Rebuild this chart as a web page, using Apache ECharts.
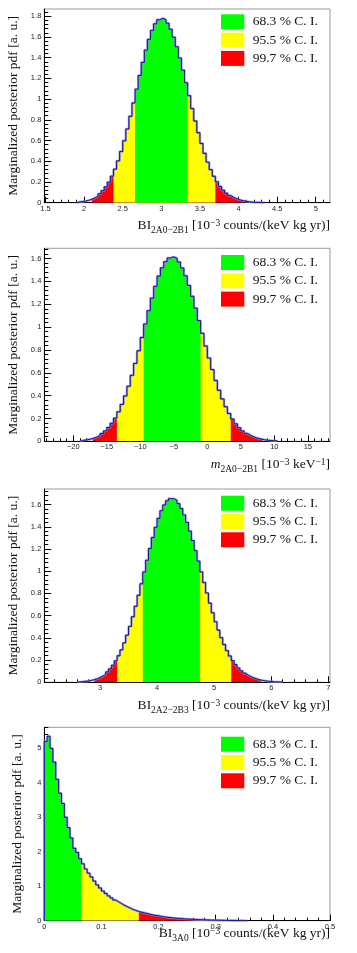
<!DOCTYPE html>
<html>
<head>
<meta charset="utf-8">
<script src="https://cdn.jsdelivr.net/npm/echarts@6/dist/echarts.min.js"></script>
<style>
  html, body { margin: 0; padding: 0; background: #fff; }
  #main { width: 357px; height: 953px; }
</style>
</head>
<body>
<div id="main"></div>
<script>
// panel 1: BI 2A0-2B1, histogram bins start / width / heights
var bi2a0Start = 1.9;
var bi2a0Width = 0.04;
var bi2a0Values = [
  0.007, 0.011, 0.016, 0.023, 0.032, 0.046, 0.063, 0.086, 0.116, 0.153,
  0.199, 0.256, 0.324, 0.404, 0.495, 0.598, 0.712, 0.834, 0.963, 1.096,
  1.228, 1.355, 1.473, 1.577, 1.663, 1.727, 1.766, 1.780, 1.768, 1.733,
  1.675, 1.598, 1.505, 1.397, 1.280, 1.158, 1.033, 0.909, 0.789, 0.676,
  0.572, 0.477, 0.392, 0.319, 0.255, 0.202, 0.157, 0.121, 0.092, 0.069,
  0.051, 0.037, 0.027, 0.019, 0.013, 0.009, 0.006, 0.004, 0.003, 0.002,
  0.001
];
var bi2a0Ci = [[2.66, 3.34], [2.38, 3.70], [2.10, 4.10]];
var bi2a0XTicks = [1.5, 2, 2.5, 3, 3.5, 4, 4.5, 5];
var bi2a0YTicks = [0, 0.2, 0.4, 0.6, 0.8, 1, 1.2, 1.4, 1.6, 1.8];

// panel 2: m 2A0-2B1
var m2a0Start = -19;
var m2a0Width = 0.5;
var m2a0Values = [
  0.008, 0.012, 0.018, 0.026, 0.036, 0.050, 0.068, 0.091, 0.121, 0.158,
  0.203, 0.258, 0.323, 0.397, 0.482, 0.578, 0.682, 0.793, 0.909, 1.027,
  1.143, 1.254, 1.357, 1.447, 1.519, 1.573, 1.605, 1.615, 1.602, 1.570,
  1.518, 1.449, 1.365, 1.270, 1.166, 1.057, 0.946, 0.835, 0.729, 0.628,
  0.533, 0.447, 0.371, 0.303, 0.244, 0.195, 0.153, 0.119, 0.091, 0.069,
  0.052, 0.038, 0.028, 0.020, 0.014, 0.010, 0.007, 0.005, 0.003
];
var m2a0Ci = [[-9.5, -1.0], [-13.5, 3.5], [-17.0, 8.0]];
var m2a0XTicks = [-20, -15, -10, -5, 0, 5, 10, 15];
var m2a0YTicks = [0, 0.2, 0.4, 0.6, 0.8, 1, 1.2, 1.4, 1.6];

// panel 3: BI 2A2-2B3
var bi2a2Start = 2.6;
var bi2a2Width = 0.05;
var bi2a2Values = [
  0.004, 0.006, 0.009, 0.012, 0.017, 0.023, 0.031, 0.042, 0.055, 0.073,
  0.094, 0.121, 0.153, 0.193, 0.239, 0.292, 0.355, 0.425, 0.503, 0.590,
  0.684, 0.783, 0.887, 0.993, 1.099, 1.204, 1.303, 1.395, 1.476, 1.544,
  1.597, 1.634, 1.653, 1.653, 1.638, 1.608, 1.564, 1.507, 1.439, 1.361,
  1.276, 1.185, 1.091, 0.994, 0.898, 0.804, 0.713, 0.626, 0.545, 0.470,
  0.402, 0.340, 0.285, 0.237, 0.195, 0.159, 0.129, 0.103, 0.082, 0.064,
  0.050, 0.039, 0.030, 0.022, 0.017, 0.013, 0.009, 0.007, 0.005, 0.004,
  0.003, 0.002
];
var bi2a2Ci = [[3.75, 4.75], [3.30, 5.30], [2.90, 5.85]];
var bi2a2XTicks = [3, 4, 5, 6, 7];
var bi2a2YTicks = [0, 0.2, 0.4, 0.6, 0.8, 1, 1.2, 1.4, 1.6];

// panel 4: BI 3A0
var bi3a0Start = 0;
var bi3a0Width = 0.005;
var bi3a0Values = [
  5.20, 5.35, 5.00, 4.60, 4.10, 3.70, 3.40, 3.00, 2.70, 2.40,
  2.10, 1.98, 1.80, 1.65, 1.50, 1.38, 1.27, 1.15, 1.04, 0.95,
  0.86, 0.79, 0.72, 0.66, 0.60, 0.55, 0.50, 0.45, 0.41, 0.37,
  0.33, 0.30, 0.27, 0.25, 0.23, 0.21, 0.19, 0.17, 0.155, 0.14,
  0.125, 0.113, 0.102, 0.092, 0.083, 0.075, 0.068, 0.061, 0.055, 0.050,
  0.045, 0.040, 0.036, 0.032, 0.029, 0.026, 0.023, 0.020, 0.018, 0.016,
  0.014, 0.012, 0.010, 0.009, 0.008, 0.007, 0.006, 0.005, 0.004, 0.003,
  0.002
];
var bi3a0Ci = [[0, 0.065], [0.065, 0.165], [0.165, 0.33]];
var bi3a0XTicks = [0, 0.1, 0.2, 0.3, 0.4, 0.5];
var bi3a0YTicks = [0, 1, 2, 3, 4, 5];

var ciLabels = ["68.3 % C. I.", "95.5 % C. I.", "99.7 % C. I."];
var ciColors = ["#00ff00", "#ffff00", "#ff0000"];
var yTitle = "Marginalized posterior pdf [a. u.]";

var panels = [
  { values: bi2a0Values, start: bi2a0Start, width: bi2a0Width, ci: bi2a0Ci,
    xTicks: bi2a0XTicks, yTicks: bi2a0YTicks, xMinor: 0.1, yMinor: 0.04,
    xMin: 1.484, xMax: 5.185, yMax: 1.87, top: 9, height: 193.7, legendTop: 14.3,
    title: "{n|BI}{sub|2A0\u22122B1}{n| [10}{sup|\u22123}{n| counts/(keV kg yr)]}", titleTop: 218 },
  { values: m2a0Values, start: m2a0Start, width: m2a0Width, ci: m2a0Ci,
    xTicks: m2a0XTicks, yTicks: m2a0YTicks, xMinor: 1, yMinor: 0.04,
    xMin: -24.33, xMax: 18.31, yMax: 1.69, top: 248.3, height: 193, legendTop: 255,
    title: "{it|m}{sub|2A0\u22122B1}{n| [10}{sup|\u22123}{n| keV}{sup|\u22121}{n|]}", titleTop: 457.5 },
  { values: bi2a2Values, start: bi2a2Start, width: bi2a2Width, ci: bi2a2Ci,
    xTicks: bi2a2XTicks, yTicks: bi2a2YTicks, xMinor: 0.2, yMinor: 0.04,
    xMin: 2.024, xMax: 7.03, yMax: 1.74, top: 489, height: 193.3, legendTop: 495.7,
    title: "{n|BI}{sub|2A2\u22122B3}{n| [10}{sup|\u22123}{n| counts/(keV kg yr)]}", titleTop: 698 },
  { values: bi3a0Values, start: bi3a0Start, width: bi3a0Width, ci: bi3a0Ci,
    xTicks: bi3a0XTicks, yTicks: bi3a0YTicks, xMinor: 0.02, yMinor: 0.2,
    xMin: 0, xMax: 0.5, yMax: 5.61, top: 727.3, height: 193.4, legendTop: 736.7,
    title: "{n|BI}{sub|3A0}{n| [10}{sup|\u22123}{n| counts/(keV kg yr)]}", titleTop: 926 }
];

function minorTicks(min, max, step) {
  var out = [];
  for (var k = Math.ceil(min / step - 1e-9); k * step <= max + 1e-9; k++) {
    out.push(+(k * step).toFixed(6));
  }
  return out;
}

// step-line points for the bins whose centre lies in [lo, hi]
function binPoints(p, lo, hi) {
  var pts = [];
  var last = null;
  p.values.forEach(function (v, i) {
    var x0 = p.start + i * p.width;
    var xc = x0 + p.width / 2;
    if (xc >= lo && xc <= hi) {
      pts.push([x0, v]);
      last = [x0 + p.width, v];
    }
  });
  if (last) pts.push(last);
  return pts;
}

var tickFont = { fontFamily: "Liberation Sans", fontSize: 7.5, color: "#222" };
var serif = "Liberation Serif";
var fmt = function (v) { return String(v).replace("-", "\u2212"); };

var grids = [], xAxes = [], yAxes = [], series = [], titles = [], graphics = [];

panels.forEach(function (p, g) {
  grids.push({ left: 44.3, top: p.top, width: 285.7, height: p.height,
    show: true, borderColor: "#999", borderWidth: 1, backgroundColor: "transparent",
    outerBoundsMode: "none" });

  // major x axis with labels
  xAxes.push({ gridIndex: g, type: "value", position: "bottom", min: p.xMin, max: p.xMax,
    axisLine: { show: true, onZero: false, lineStyle: { color: "#000", width: 1 } },
    axisTick: { show: true, inside: true, length: 6, customValues: p.xTicks, lineStyle: { color: "#000" } },
    axisLabel: Object.assign({ customValues: p.xTicks, margin: 2, hideOverlap: false, formatter: fmt }, tickFont),
    splitLine: { show: false } });
  // minor x ticks
  xAxes.push({ gridIndex: g, type: "value", position: "bottom", min: p.xMin, max: p.xMax,
    axisLine: { show: false, onZero: false },
    axisTick: { show: true, inside: true, length: 3, customValues: minorTicks(p.xMin, p.xMax, p.xMinor), lineStyle: { color: "#000" } },
    axisLabel: { show: false }, splitLine: { show: false } });

  yAxes.push({ gridIndex: g, type: "value", position: "left", min: 0, max: p.yMax,
    name: yTitle, nameLocation: "middle", nameGap: 20, nameRotate: 90,
    nameTextStyle: { fontFamily: serif, fontSize: 13.5, color: "#111" },
    axisLine: { show: true, onZero: false, lineStyle: { color: "#000", width: 1 } },
    axisTick: { show: true, inside: true, length: 7, customValues: p.yTicks, lineStyle: { color: "#000" } },
    axisLabel: Object.assign({ customValues: p.yTicks, margin: 3, hideOverlap: false, formatter: fmt }, tickFont),
    splitLine: { show: false } });
  yAxes.push({ gridIndex: g, type: "value", position: "left", min: 0, max: p.yMax,
    axisLine: { show: false, onZero: false },
    axisTick: { show: true, inside: true, length: 4, customValues: minorTicks(0, p.yMax, p.yMinor), lineStyle: { color: "#000" } },
    axisLabel: { show: false }, splitLine: { show: false } });

  var xi = g * 2, yi = g * 2;
  // widest interval first so narrower ones paint over it
  [2, 1, 0].forEach(function (c) {
    series.push({ type: "line", xAxisIndex: xi, yAxisIndex: yi, step: "end",
      data: binPoints(p, p.ci[c][0], p.ci[c][1]), showSymbol: false, silent: true,
      lineStyle: { width: 0 }, itemStyle: { color: ciColors[c] },
      areaStyle: { color: ciColors[c], opacity: 1 } });
  });
  var outline = [[p.start, 0]].concat(binPoints(p, -Infinity, Infinity));
  outline.push([p.start + p.values.length * p.width, 0]);
  series.push({ type: "line", xAxisIndex: xi, yAxisIndex: yi, step: "end", data: outline,
    showSymbol: false, silent: true, lineStyle: { color: "#8c8ce6", width: 2.4, opacity: 0.8 } });
  series.push({ type: "line", xAxisIndex: xi, yAxisIndex: yi, step: "end", data: outline,
    showSymbol: false, silent: true, lineStyle: { color: "#14148c", width: 1 } });

  titles.push({ text: p.title, right: 27, top: p.titleTop, padding: 0,
    textStyle: { fontWeight: "normal", rich: {
      n: { fontFamily: serif, fontWeight: "normal", fontSize: 13.5, color: "#111", lineHeight: 17, verticalAlign: "top" },
      it: { fontFamily: serif, fontWeight: "normal", fontStyle: "italic", fontSize: 13.5, color: "#111", lineHeight: 17, verticalAlign: "top" },
      sub: { fontFamily: serif, fontWeight: "normal", fontSize: 9.5, color: "#111", lineHeight: 11, padding: [7, 0, 0, 0], verticalAlign: "top" },
      sup: { fontFamily: serif, fontWeight: "normal", fontSize: 9.5, color: "#111", lineHeight: 11, verticalAlign: "top" }
    } } });

  // legend boxes
  ciLabels.forEach(function (label, c) {
    var y = p.legendTop + c * 18.3;
    graphics.push({ type: "rect", silent: true, shape: { x: 221, y: y, width: 23.3, height: 15 },
      style: { fill: ciColors[c] } });
    graphics.push({ type: "text", silent: true, x: 252.7, y: y + 7.5,
      style: { text: label, fontFamily: serif, fontSize: 13.5, fill: "#111", verticalAlign: "middle" } });
  });
});

var chart = echarts.init(document.getElementById("main"));
chart.setOption({
  animation: false,
  backgroundColor: "#fff",
  title: titles,
  grid: grids,
  xAxis: xAxes,
  yAxis: yAxes,
  series: series,
  graphic: graphics
});
</script>
</body>
</html>
